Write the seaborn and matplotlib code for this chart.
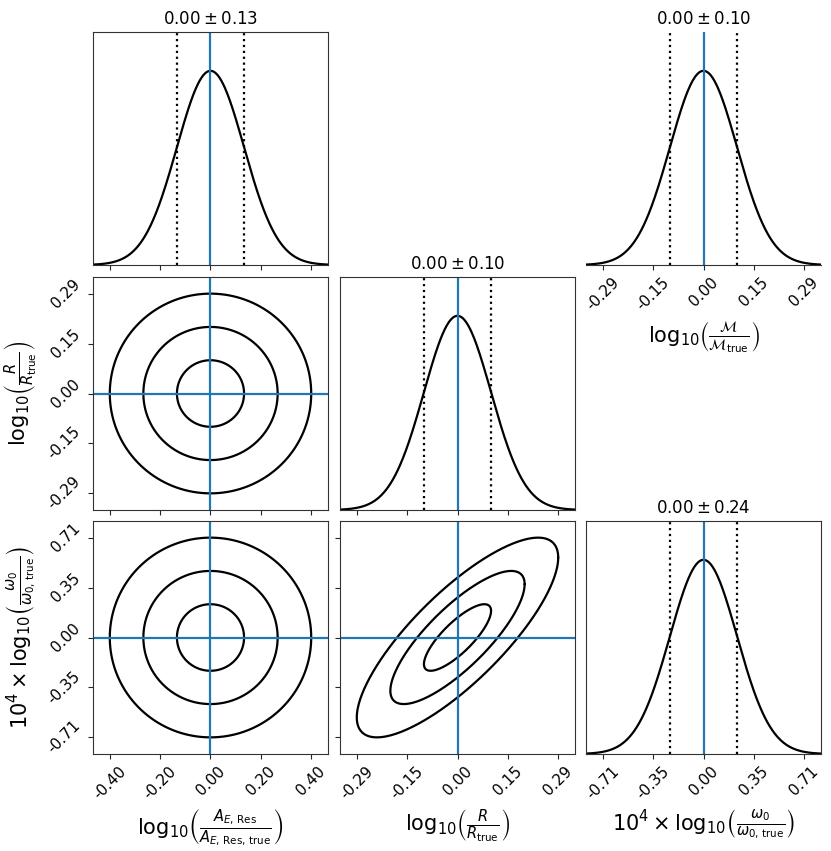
import numpy as np
import pandas as pd
import matplotlib.pyplot as plt
import seaborn as sns

sns.set_style("ticks", {"text.color": "black", "axes.labelcolor": "black",
                        "xtick.color": "0.15", "ytick.color": "0.15",
                        "axes.edgecolor": "0.2"})
plt.rcParams["xtick.labelcolor"] = "black"
plt.rcParams["ytick.labelcolor"] = "black"

# Gaussian posterior summaries
names = ["A", "R", "M", "w"]
means = {"A": 0.0, "R": 0.0, "M": 0.0, "w": 0.0}
sigmas = {"A": 0.1333, "R": 0.0967, "M": 0.0967, "w": 0.2367}
titles = {"A": r"$0.00 \pm 0.13$", "R": r"$0.00 \pm 0.10$",
          "M": r"$0.00 \pm 0.10$", "w": r"$0.00 \pm 0.24$"}
tick_labels = {
    "A": ["-0.40", "-0.20", "0.00", "0.20", "0.40"],
    "R": ["-0.29", "-0.15", "0.00", "0.15", "0.29"],
    "M": ["-0.29", "-0.15", "0.00", "0.15", "0.29"],
    "w": ["-0.71", "-0.35", "0.00", "0.35", "0.71"],
}
labels = {
    "A": r"$\log_{10}\!\left(\frac{A_{E,\,\mathrm{Res}}}{A_{E,\,\mathrm{Res,\,true}}}\right)$",
    "R": r"$\log_{10}\!\left(\frac{R}{R_\mathrm{true}}\right)$",
    "M": r"$\log_{10}\!\left(\frac{\mathcal{M}}{\mathcal{M}_\mathrm{true}}\right)$",
    "w": r"$10^4 \times \log_{10}\!\left(\frac{\omega_0}{\omega_{0,\,\mathrm{true}}}\right)$",
}
# correlations of the 2D panels
correlations = {("A", "R"): 0.0, ("A", "w"): 0.0, ("R", "w"): 0.8}
contour_levels = [1, 2, 3]

tick_mult = [-3, -1.5, 0, 1.5, 3]
span = 3.5
blue = "#1f77b4"

W, H = 831, 851
fig = plt.figure(figsize=(W / 100, H / 100), dpi=100)


def make_ax(col, row):
    lefts = [93, 340, 586]
    tops = [32, 277, 521]
    w, h = 235, 233
    return fig.add_axes([lefts[col] / W, 1 - (tops[row] + h) / H, w / W, h / H])


def set_ticks(ax, axis, p, show):
    t = [means[p] + m * sigmas[p] for m in tick_mult]
    lim = (means[p] - span * sigmas[p], means[p] + span * sigmas[p])
    if axis == "x":
        ax.set_xticks(t)
        ax.set_xlim(lim)
        if show:
            ax.set_xticklabels(tick_labels[p], rotation=45, fontsize=11)
            ax.set_xlabel(labels[p], fontsize=15)
        else:
            ax.set_xticklabels([])
    else:
        ax.set_yticks(t)
        ax.set_ylim(lim)
        if show:
            ax.set_yticklabels(tick_labels[p], rotation=45, fontsize=11, va="center")
            ax.set_ylabel(labels[p], fontsize=15)
        else:
            ax.set_yticklabels([])


def draw_1d(ax, p, show_x, frame=True):
    mu, s = means[p], sigmas[p]
    x = np.linspace(mu - span * s, mu + span * s, 400)
    pdf = np.exp(-0.5 * ((x - mu) / s) ** 2) / (s * np.sqrt(2 * np.pi))
    sns.lineplot(x=x, y=pdf, color="k", lw=1.6, ax=ax)
    for v in [mu - s, mu + s]:
        ax.axvline(v, color="k", ls=":", lw=1.6)
    ax.axvline(mu, color=blue, lw=1.6)
    ax.set_ylim(0, 1.2 * pdf.max())
    ax.set_yticks([])
    set_ticks(ax, "x", p, show_x)
    ax.set_title(titles[p], fontsize=12)
    if not frame:
        for sp in ["top", "left", "right"]:
            ax.spines[sp].set_visible(False)


def draw_2d(ax, px, py, show_x, show_y):
    rho = correlations[(px, py)]
    sx, sy = sigmas[px], sigmas[py]
    t = np.linspace(0, 2 * np.pi, 300)
    rows = []
    for d in contour_levels:
        xs = means[px] + d * sx * np.cos(t)
        ys = means[py] + d * sy * (rho * np.cos(t) + np.sqrt(1 - rho ** 2) * np.sin(t))
        rows.append(pd.DataFrame({"x": xs, "y": ys, "level": d}))
    df = pd.concat(rows)
    sns.lineplot(data=df, x="x", y="y", units="level", estimator=None, sort=False,
                 color="k", lw=1.6, ax=ax)
    ax.axvline(means[px], color=blue, lw=1.6)
    ax.axhline(means[py], color=blue, lw=1.6)
    set_ticks(ax, "x", px, show_x)
    set_ticks(ax, "y", py, show_y)
    if not show_x:
        ax.set_xlabel("")
    if not show_y:
        ax.set_ylabel("")


draw_1d(make_ax(0, 0), "A", False)
draw_1d(make_ax(2, 0), "M", True, frame=False)
draw_2d(make_ax(0, 1), "A", "R", False, True)
draw_1d(make_ax(1, 1), "R", False)
draw_2d(make_ax(0, 2), "A", "w", True, True)
draw_2d(make_ax(1, 2), "R", "w", True, False)
draw_1d(make_ax(2, 2), "w", True)

fig.savefig("out.png", dpi=100)
